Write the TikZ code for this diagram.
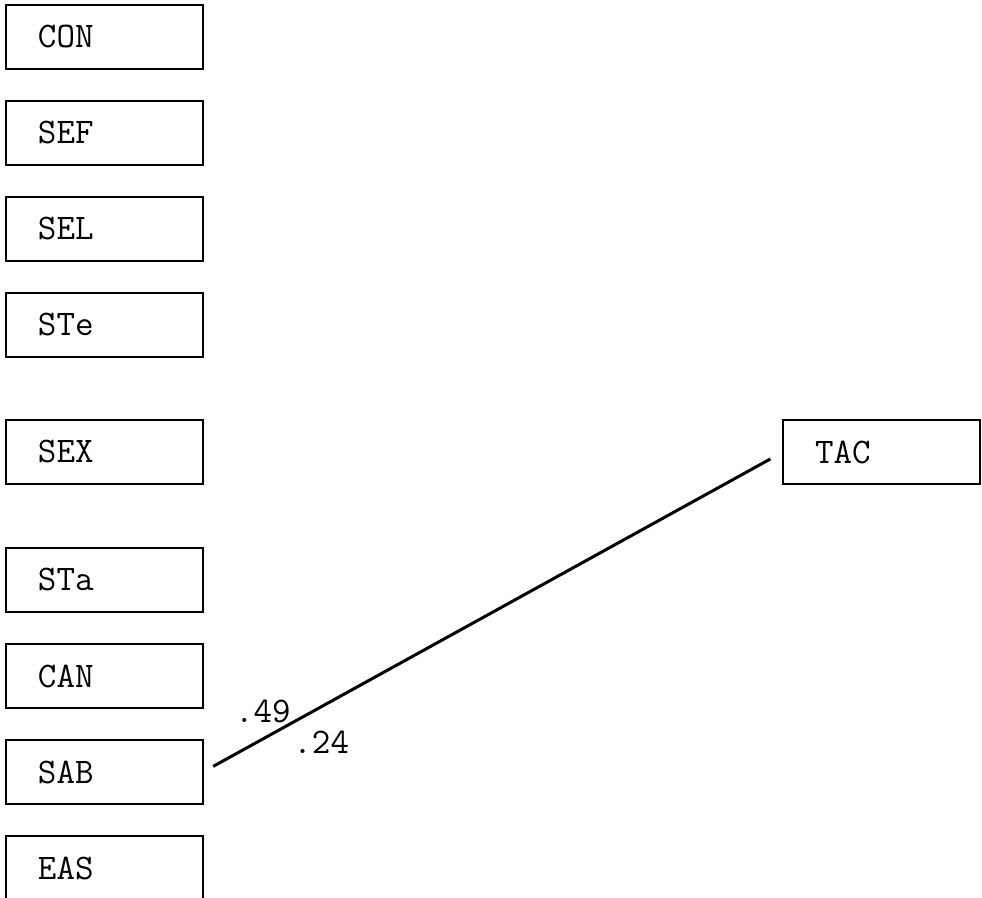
\documentclass[tikz,border=0pt]{standalone}
\usetikzlibrary{positioning}
\tikzset{
  varbox/.style={draw=black,line width=1pt,rectangle,minimum height=32pt,
    text width=66.5pt,inner xsep=16pt,outer sep=0pt,align=left,
    font=\ttfamily\fontsize{18}{20}\selectfont},
  coef/.style={font=\ttfamily\fontsize{18}{20}\selectfont,inner sep=0pt}
}
\begin{document}
\begin{tikzpicture}[x=0.5pt,y=-0.5pt,node distance=16pt]
  \useasboundingbox (0,0) rectangle (982,898);
  \clip (0,0) rectangle (982,898);
  \node[varbox] (con) at (104.5,37) {CON};
  \node[varbox,below=of con] (sef) {SEF};
  \node[varbox,below=of sef] (sel) {SEL};
  \node[varbox,below=of sel] (ste) {STe};
  \node[varbox,below=31.5pt of ste] (sex) {SEX};
  \node[varbox,below=32pt of sex] (sta) {STa};
  \node[varbox,below=of sta] (can) {CAN};
  \node[varbox,below=of can] (sab) {SAB};
  \node[varbox,below=of sab] (eas) {EAS};
  \node[varbox,right=290pt of sex] (tac) {TAC};
  \draw[line width=1.5pt,shorten <=5.8pt,shorten >=7.2pt] (sab.east) -- (tac.west)
    node[coef,pos=.124,xshift=-6pt,yshift=10.5pt] (r1) {.49}
    node[coef,pos=.178,xshift=7.5pt,yshift=-13.5pt] (r2) {.24};
\end{tikzpicture}
\end{document}
